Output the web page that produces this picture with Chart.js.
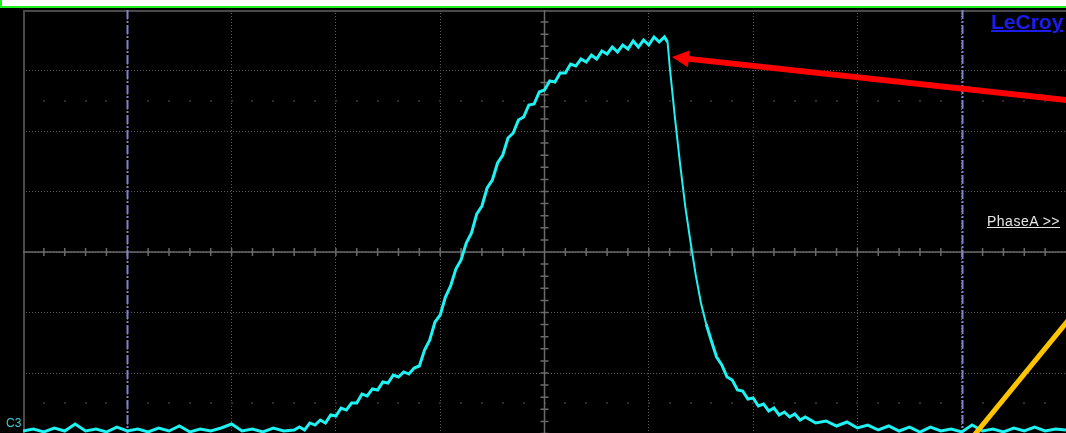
<!DOCTYPE html>
<html>
<head>
<meta charset="utf-8">
<script src="https://cdn.jsdelivr.net/npm/chart.js@4/dist/chart.umd.min.js"></script>
<style>
  html, body { margin:0; padding:0; background:#000; width:1066px; height:433px; overflow:hidden; }
  #wrap { position:relative; width:1066px; height:433px; overflow:hidden; }
  canvas { position:absolute; left:0; top:0; }
  .topwhite { position:absolute; left:0; top:0; width:1066px; height:6px; background:#fff; box-sizing:border-box; border-left:2px solid #1ef01e; z-index:3; }
  .topgreen { position:absolute; left:0; top:6px; width:1066px; height:2px; background:#1ef01e; z-index:3; }
  .lbl { position:absolute; font-family:"Liberation Sans", Arial, sans-serif; white-space:nowrap; z-index:4; }
  #lecroy { left:991px; top:10px; font-size:21px; font-weight:bold; color:#1c1cf0; text-decoration:underline; text-decoration-thickness:2px; }
  #phase { left:987px; top:213px; font-size:14px; letter-spacing:0.5px; color:#e6e6e6; text-decoration:underline; }
  #c3 { left:6px; top:416px; font-size:12px; color:#3ccfd6; }
</style>
</head>
<body>
<div id="wrap">
  <canvas id="c" width="1066" height="500"></canvas>
  <div class="topwhite"></div>
  <div class="topgreen"></div>
  <div class="lbl" id="lecroy">LeCroy</div>
  <div class="lbl" id="phase">PhaseA &gt;&gt;</div>
  <div class="lbl" id="c3">C3</div>
</div>
<script>
// ---- data (time in horizontal divisions, amplitude in vertical divisions) ----
const TIME = [
  0,0.1,0.2,0.3,0.4,0.5,0.6,0.7,0.8,0.9,1.0,1.1,1.2,1.3,1.4,1.5,1.6,1.7,1.8,1.9,2.0,2.1,2.2,2.3,2.4,2.5,
  2.6,2.65,2.7,2.75,2.8,2.85,2.9,2.95,3.0,3.05,3.1,3.15,3.2,3.25,3.3,3.35,3.4,3.45,3.5,3.55,3.6,3.65,3.7,3.75,
  3.8,3.85,3.9,3.95,4.0,4.05,4.1,4.15,4.2,4.25,4.3,4.35,4.4,4.45,4.5,4.55,4.6,4.65,4.7,4.75,4.8,4.85,4.9,4.95,
  5.0,5.05,5.1,5.15,5.2,5.25,5.3,5.35,5.4,5.45,5.5,5.55,5.6,5.65,5.7,5.75,5.8,5.85,5.9,5.95,6.0,6.05,6.1,6.15,
  6.18,
  6.2,6.25,6.3,6.35,6.4,6.45,6.5,6.55,6.6,6.65,6.7,6.75,6.8,6.85,6.9,6.95,7.0,7.05,7.1,7.15,7.2,7.25,7.3,7.35,7.4,7.45,7.5,
  7.6,7.7,7.8,7.9,8.0,8.1,8.2,8.3,8.4,8.5,8.6,8.7,8.8,8.9,9.0,9.1,9.2,9.3,9.4,9.5,9.6,9.7,9.8,9.9,10.0
];
const C3_VALUES = [
  -2.959,-2.926,-2.975,-2.909,-2.959,-2.843,-2.959,-2.926,-2.975,-2.893,-2.959,-2.926,-2.975,-2.909,-2.959,-2.876,-2.975,-2.926,-2.959,-2.909,-2.843,-2.959,-2.926,-2.975,-2.909,-2.959,
  -2.942,-2.893,-2.942,-2.826,-2.860,-2.777,-2.826,-2.694,-2.711,-2.579,-2.612,-2.496,-2.496,-2.347,-2.380,-2.264,-2.281,-2.149,-2.165,-2.033,-2.066,-1.983,-2.017,-1.917,
  -1.884,-1.620,-1.455,-1.157,-1.041,-0.744,-0.562,-0.281,-0.132,0.149,0.314,0.628,0.760,1.058,1.190,1.471,1.603,1.884,1.967,2.182,2.231,2.430,2.446,2.645,
  2.678,2.826,2.810,2.959,2.959,3.107,3.074,3.190,3.140,3.256,3.190,3.322,3.273,3.388,3.306,3.421,3.355,3.488,3.388,3.504,3.421,3.554,3.471,3.554,
  3.471,
  3.074,2.231,1.455,0.744,0.165,-0.380,-0.843,-1.190,-1.471,-1.736,-1.868,-2.066,-2.116,-2.281,-2.298,-2.430,-2.413,-2.545,-2.512,-2.628,-2.579,-2.694,-2.645,-2.727,-2.678,-2.777,-2.727,
  -2.826,-2.793,-2.876,-2.810,-2.909,-2.860,-2.942,-2.876,-2.959,-2.893,-2.975,-2.893,-2.959,-2.926,-2.975,-2.860,-2.959,-2.926,-2.975,-2.909,-2.959,-2.893,-2.959,-2.926,-2.942
];
// grid: 10 horizontal x 8 vertical divisions
const X_RANGE = [0, 10];
const Y_RANGE = [-4, 4];
const CURSORS = [1, 9];
const ARROW_RED = { from: [10.0, 2.512], to: [6.222, 3.223] };
const LINE_YELLOW = { a: [9.137, -2.992], b: [10.0, -1.174] };

const overlay = {
  id: 'scopeOverlay',
  beforeDatasetsDraw(chart) {
    const { ctx, chartArea: a, scales: { x, y } } = chart;
    ctx.save();
    // faint dot rows at +-2.5 div
    ctx.fillStyle = '#2c2c2c';
    [2.5, -2.5].forEach(v => {
      const py = y.getPixelForValue(v);
      for (let i = 1; i < 50; i++) {
        const px = x.getPixelForValue(i * 0.2);
        ctx.fillRect(Math.round(px) - 1, Math.round(py) - 1, 2, 2);
      }
    });
    // border left/top
    ctx.strokeStyle = '#4a4a4a';
    ctx.lineWidth = 2;
    ctx.beginPath();
    ctx.moveTo(a.left + 1, a.bottom);
    ctx.lineTo(a.left + 1, a.top + 1);
    ctx.lineTo(a.right, a.top + 1);
    ctx.stroke();
    // center axes with ticks
    const cx = x.getPixelForValue(5), cy = y.getPixelForValue(0);
    ctx.strokeStyle = '#6a6a6a';
    ctx.lineWidth = 1.5;
    ctx.beginPath();
    ctx.moveTo(a.left, cy); ctx.lineTo(a.right, cy);
    ctx.moveTo(cx, a.top); ctx.lineTo(cx, a.bottom);
    for (let i = 1; i < 50; i++) {
      const px = x.getPixelForValue(i * 0.2);
      ctx.moveTo(px, cy - 4); ctx.lineTo(px, cy + 4);
    }
    for (let i = 1; i < 40; i++) {
      const py = y.getPixelForValue(-4 + i * 0.2);
      ctx.moveTo(cx - 4, py); ctx.lineTo(cx + 4, py);
    }
    ctx.stroke();
    // cursors
    ctx.strokeStyle = '#8282cc';
    ctx.lineWidth = 2;
    ctx.setLineDash([9, 2, 2, 2]);
    CURSORS.forEach(t => {
      const px = Math.round(x.getPixelForValue(t)) + 0.5;
      ctx.beginPath(); ctx.moveTo(px, a.top); ctx.lineTo(px, a.bottom); ctx.stroke();
    });
    ctx.restore();
  },
  afterDatasetsDraw(chart) {
    const { ctx, scales: { x, y } } = chart;
    ctx.save();
    // yellow line
    const ya = [x.getPixelForValue(LINE_YELLOW.a[0]), y.getPixelForValue(LINE_YELLOW.a[1])];
    const yb = [x.getPixelForValue(LINE_YELLOW.b[0]), y.getPixelForValue(LINE_YELLOW.b[1])];
    const s0 = -0.8, s1 = 1.4;
    ctx.strokeStyle = '#ffc400';
    ctx.lineWidth = 5;
    ctx.beginPath();
    ctx.moveTo(ya[0] + (yb[0] - ya[0]) * s0, ya[1] + (yb[1] - ya[1]) * s0);
    ctx.lineTo(ya[0] + (yb[0] - ya[0]) * s1, ya[1] + (yb[1] - ya[1]) * s1);
    ctx.stroke();
    // red arrow
    const f = [x.getPixelForValue(ARROW_RED.from[0]), y.getPixelForValue(ARROW_RED.from[1])];
    const t = [x.getPixelForValue(ARROW_RED.to[0]), y.getPixelForValue(ARROW_RED.to[1])];
    const ang = Math.atan2(t[1] - f[1], t[0] - f[0]);
    const headLen = 17, headW = 8.5;
    const bx = t[0] - headLen * Math.cos(ang), by = t[1] - headLen * Math.sin(ang);
    ctx.strokeStyle = '#ff0000';
    ctx.fillStyle = '#ff0000';
    ctx.lineWidth = 6;
    ctx.beginPath();
    ctx.moveTo(f[0] + 20 * Math.cos(ang + Math.PI), f[1] + 20 * Math.sin(ang + Math.PI));
    ctx.lineTo(bx + 2 * Math.cos(ang), by + 2 * Math.sin(ang));
    ctx.stroke();
    ctx.beginPath();
    ctx.moveTo(t[0], t[1]);
    ctx.lineTo(bx + headW * Math.sin(ang), by - headW * Math.cos(ang));
    ctx.lineTo(bx - headW * Math.sin(ang), by + headW * Math.cos(ang));
    ctx.closePath();
    ctx.fill();
    ctx.restore();
  }
};

const points = TIME.map((t, i) => ({ x: t, y: C3_VALUES[i] }));

new Chart(document.getElementById('c'), {
  type: 'line',
  data: {
    datasets: [{
      label: 'C3',
      data: points,
      borderColor: '#1ef2f2',
      borderWidth: 3,
      borderJoinStyle: 'miter',
      pointRadius: 0,
      tension: 0,
      fill: false,
      segment: {
        borderWidth: c => {
          const dx = Math.abs(c.p1.x - c.p0.x), dy = Math.abs(c.p1.y - c.p0.y);
          return dy > 4 * dx ? 2 : 3;
        }
      }
    }]
  },
  options: {
    responsive: false,
    devicePixelRatio: 1,
    animation: false,
    layout: { padding: { left: 23, top: 10, right: 0, bottom: 6 } },
    plugins: { legend: { display: false }, tooltip: { enabled: false } },
    scales: {
      x: {
        type: 'linear', min: X_RANGE[0], max: X_RANGE[1],
        ticks: { display: false, stepSize: 1 },
        grid: { color: '#5a5a5a', lineWidth: 1, drawTicks: false },
        border: { display: false, dash: [1, 2] }
      },
      y: {
        type: 'linear', min: Y_RANGE[0], max: Y_RANGE[1],
        ticks: { display: false, stepSize: 1 },
        grid: { color: '#5a5a5a', lineWidth: 1, drawTicks: false },
        border: { display: false, dash: [1, 2] }
      }
    }
  },
  plugins: [overlay]
});
</script>
</body>
</html>
